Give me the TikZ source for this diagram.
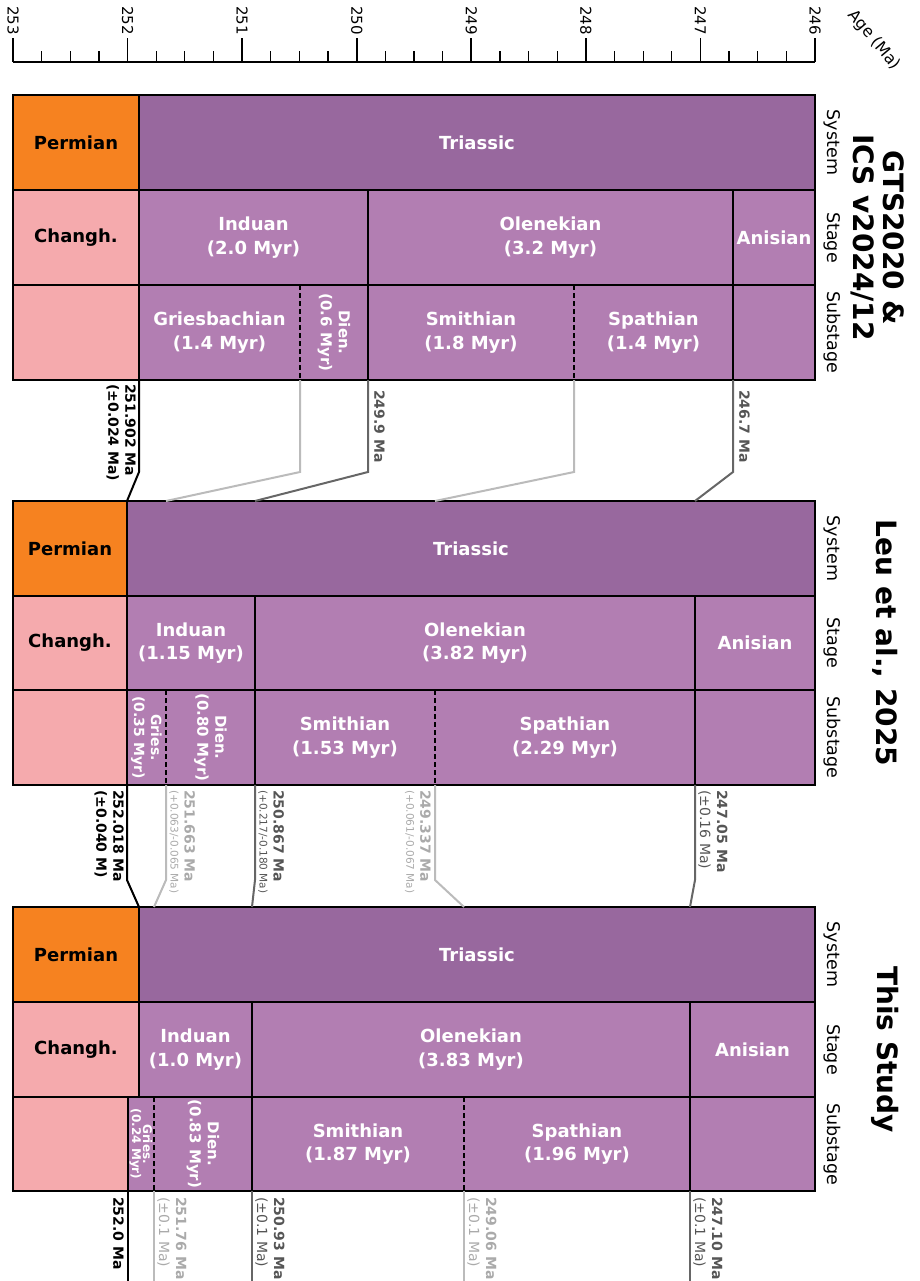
\documentclass[tikz,border=0pt]{standalone}
\usepackage{fontspec}
\setmainfont{DejaVu Sans}
\definecolor{permian}{HTML}{F68220}
\definecolor{changh}{HTML}{F5AAAD}
\definecolor{triassic}{HTML}{98689E}
\definecolor{stagefill}{HTML}{B27EB2}
\definecolor{darkln}{HTML}{666666}
\definecolor{lightln}{HTML}{BBBBBB}
\definecolor{darktx}{HTML}{555555}
\definecolor{lighttx}{HTML}{AAAAAA}
\begin{document}
\begin{tikzpicture}[x=1pt,y=-1pt,
	box/.style={draw=black,line width=2pt},
	subdash/.style={black,line width=1.6pt,dash pattern=on 5pt off 3pt},
	wtxt/.style={text=white,font=\bfseries\fontsize{18}{23.5}\selectfont,align=center},
	btxt/.style={text=black,font=\bfseries\fontsize{18}{23.5}\selectfont,align=center},
	vtxt/.style={text=white,font=\bfseries\fontsize{15}{18}\selectfont,align=center,rotate=-90,inner sep=0pt},
	rowname/.style={font=\fontsize{17.5}{20}\selectfont,rotate=-90},
	srcname/.style={font=\bfseries\fontsize{28}{30}\selectfont,rotate=-90,align=center},
	agetag/.style={font=\bfseries\fontsize{14}{17}\selectfont,rotate=-90,align=left,inner sep=0pt},
	tie/.style={line width=2pt}
]
\useasboundingbox (0,0) rectangle (919,1281);

% age axis
\draw[line width=1.6pt] (13,62) coordinate (ax0) -- (815,62) coordinate (ax1);
\foreach \i in {0,...,7}{
	\pgfmathsetmacro\xx{13+\i*114.571}
	\pgfmathtruncatemacro\age{253-\i}
	\draw[line width=1.6pt] (\xx,62) -- (\xx,38);
	\node[rotate=-90,anchor=west,inner sep=0pt,font=\fontsize{15}{17}\selectfont] (tick\age) at (\xx,6) {\age};
}
\foreach \i in {1,...,27}{
	\pgfmathsetmacro\xx{13+\i*28.643}
	\draw[line width=1.2pt] (\xx,62) -- (\xx,51);
}
\node[rotate=-50,font=\fontsize{16}{18}\selectfont] (agename) at (874,40) {Age (Ma)};

% GTS2020 / ICS panel
\fill[permian] (13,95) rectangle (139,190);
\fill[triassic] (139,95) rectangle (815,190);
\fill[changh] (13,190) rectangle (139,380);
\fill[stagefill] (139,190) rectangle (815,380);
\draw[subdash] (300,285) -- (300,380) (574,285) -- (574,380);
\draw[box] (13,190) -- (815,190) (13,285) -- (815,285)
	(139,95) -- (139,380) (368,190) -- (368,380) (733,190) -- (733,380);
\draw[box] (13,95) rectangle (815,380);
\coordinate (g-pt) at (139,380);
\coordinate (g-gd) at (300,380);
\coordinate (g-io) at (368,380);
\coordinate (g-ss) at (574,380);
\coordinate (g-oa) at (733,380);
\node[btxt] (g-perm) at (76,142.5) {Permian};
\node[wtxt] (g-tri) at (477,142.5) {Triassic};
\node[btxt] (g-chx) at (76,237.5) {Changh.};
\node[wtxt] (g-ind) at (253.5,237.5) {Induan\\(2.0 Myr)};
\node[wtxt] (g-ole) at (550.5,237.5) {Olenekian\\(3.2 Myr)};
\node[wtxt] (g-ani) at (774,237.5) {Anisian};
\node[wtxt] (g-gri) at (219.5,332.5) {Griesbachian\\(1.4 Myr)};
\node[vtxt] (g-die) at (334,332.5) {Dien.\\(0.6 Myr)};
\node[wtxt] (g-smi) at (471,332.5) {Smithian\\(1.8 Myr)};
\node[wtxt] (g-spa) at (653.5,332.5) {Spathian\\(1.4 Myr)};
\node[rowname] (g-sys) at (832,142.5) {System};
\node[rowname] (g-stg) at (832,237.5) {Stage};
\node[rowname] (g-sub) at (832,332.5) {Substage};
\node[srcname] (g-src) at (878,237.5) {GTS2020 \&\\ICS v2024/12};

% Leu et al. panel
\fill[permian] (13,501) rectangle (127,596);
\fill[triassic] (127,501) rectangle (815,596);
\fill[changh] (13,596) rectangle (127,785);
\fill[stagefill] (127,596) rectangle (815,785);
\draw[subdash] (166,690) -- (166,785) (435,690) -- (435,785);
\draw[box] (13,596) -- (815,596) (13,690) -- (815,690)
	(127,501) -- (127,785) (255,596) -- (255,785) (695,596) -- (695,785);
\draw[box] (13,501) rectangle (815,785);
\coordinate (l-ptt) at (127,501);
\coordinate (l-gdt) at (166,501);
\coordinate (l-iot) at (255,501);
\coordinate (l-sst) at (435,501);
\coordinate (l-oat) at (695,501);
\coordinate (l-pt) at (127,785);
\coordinate (l-gd) at (166,785);
\coordinate (l-io) at (255,785);
\coordinate (l-ss) at (435,785);
\coordinate (l-oa) at (695,785);
\node[btxt] (l-perm) at (70,548.5) {Permian};
\node[wtxt] (l-tri) at (471,548.5) {Triassic};
\node[btxt] (l-chx) at (70,643) {Changh.};
\node[wtxt] (l-ind) at (191,643) {Induan\\(1.15 Myr)};
\node[wtxt] (l-ole) at (475,643) {Olenekian\\(3.82 Myr)};
\node[wtxt] (l-ani) at (755,643) {Anisian};
\node[vtxt,font=\bfseries\fontsize{14}{17}\selectfont] (l-gri) at (146.5,737.5) {Gries.\\(0.35 Myr)};
\node[vtxt] (l-die) at (210.5,737.5) {Dien.\\(0.80 Myr)};
\node[wtxt] (l-smi) at (345,737.5) {Smithian\\(1.53 Myr)};
\node[wtxt] (l-spa) at (565,737.5) {Spathian\\(2.29 Myr)};
\node[rowname] (l-sys) at (832,548.5) {System};
\node[rowname] (l-stg) at (832,643) {Stage};
\node[rowname] (l-sub) at (832,737.5) {Substage};
\node[srcname] (l-src) at (885,643) {Leu et al., 2025};

% This Study panel
\fill[permian] (13,907) rectangle (139,1002);
\fill[triassic] (139,907) rectangle (815,1002);
\fill[changh] (13,1002) rectangle (139,1097);
\fill[changh] (13,1097) rectangle (128,1191);
\fill[stagefill] (139,1002) rectangle (815,1097);
\fill[stagefill] (128,1097) rectangle (815,1191);
\draw[subdash] (154,1097) -- (154,1191) (464,1097) -- (464,1191);
\draw[box] (13,1002) -- (815,1002) (13,1097) -- (815,1097)
	(139,907) -- (139,1097) (128,1097) -- (128,1191)
	(252,1002) -- (252,1191) (690,1002) -- (690,1191);
\draw[box] (13,907) rectangle (815,1191);
\coordinate (s-ptt) at (139,907);
\coordinate (s-gdt) at (154,907);
\coordinate (s-iot) at (252,907);
\coordinate (s-sst) at (464,907);
\coordinate (s-oat) at (690,907);
\coordinate (s-pt) at (128,1191);
\coordinate (s-gd) at (154,1191);
\coordinate (s-io) at (252,1191);
\coordinate (s-ss) at (464,1191);
\coordinate (s-oa) at (690,1191);
\node[btxt] (s-perm) at (76,954.5) {Permian};
\node[wtxt] (s-tri) at (477,954.5) {Triassic};
\node[btxt] (s-chx) at (76,1049.5) {Changh.};
\node[wtxt] (s-ind) at (195.5,1049.5) {Induan\\(1.0 Myr)};
\node[wtxt] (s-ole) at (471,1049.5) {Olenekian\\(3.83 Myr)};
\node[wtxt] (s-ani) at (752.5,1049.5) {Anisian};
\node[vtxt,font=\bfseries\fontsize{12}{11}\selectfont] (s-gri) at (141,1144) {Gries.\\(0.24 Myr)};
\node[vtxt] (s-die) at (203,1144) {Dien.\\(0.83 Myr)};
\node[wtxt] (s-smi) at (358,1144) {Smithian\\(1.87 Myr)};
\node[wtxt] (s-spa) at (577,1144) {Spathian\\(1.96 Myr)};
\node[rowname] (s-sys) at (832,954.5) {System};
\node[rowname] (s-stg) at (832,1049.5) {Stage};
\node[rowname] (s-sub) at (832,1144) {Substage};
\node[srcname] (s-src) at (885,1049.5) {This Study};

% ties GTS -> Leu
\draw[tie] (g-pt) -- ++(0,92) -- (l-ptt);
\draw[tie,lightln] (g-gd) -- ++(0,92) -- (l-gdt);
\draw[tie,darkln] (g-io) -- ++(0,92) -- (l-iot);
\draw[tie,lightln] (g-ss) -- ++(0,92) -- (l-sst);
\draw[tie,darkln] (g-oa) -- ++(0,92) -- (l-oat);
\node[agetag,anchor=north west] (g-ptl) at ([shift={(-3,4)}]g-pt) {251.902 Ma\\(±0.024 Ma)};
\node[agetag,anchor=south west,text=darktx] (g-iol) at ([shift={(6,10)}]g-io) {249.9 Ma};
\node[agetag,anchor=south west,text=darktx] (g-oal) at ([shift={(6,10)}]g-oa) {246.7 Ma};

% ties Leu -> This Study
\draw[tie] (l-pt) -- ++(0,95) -- (s-ptt);
\draw[tie,lightln] (l-gd) -- ++(0,95) -- (s-gdt);
\draw[tie,darkln] (l-io) -- ++(0,95) -- (s-iot);
\draw[tie,lightln] (l-ss) -- ++(0,95) -- (s-sst);
\draw[tie,darkln] (l-oa) -- ++(0,95) -- (s-oat);
\node[agetag,anchor=north west] (l-ptl) at ([shift={(-3,5)}]l-pt) {252.018 Ma\\(±0.040 M)};
\node[agetag,anchor=south west,text=lighttx] (l-gdl) at ([shift={(3,5)}]l-gd) {251.663 Ma\\[-3pt]{\mdseries\fontsize{10.5}{12}\selectfont(+0.063/-0.065 Ma)}};
\node[agetag,anchor=south west,text=darktx] (l-iol) at ([shift={(3,5)}]l-io) {250.867 Ma\\[-3pt]{\mdseries\fontsize{10.5}{12}\selectfont(+0.217/-0.180 Ma)}};
\node[agetag,anchor=north west,text=lighttx] (l-ssl) at ([shift={(-4,5)}]l-ss) {249.337 Ma\\[-3pt]{\mdseries\fontsize{10.5}{12}\selectfont(+0.061/-0.067 Ma)}};
\node[agetag,anchor=south west,text=darktx] (l-oal) at ([shift={(3,5)}]l-oa) {247.05 Ma\\{\mdseries(±0.16 Ma)}};

% ties below This Study
\draw[tie] (s-pt) -- ++(0,90) coordinate (s-ptb);
\draw[tie,lightln] (s-gd) -- ++(0,90) coordinate (s-gdb);
\draw[tie,darkln] (s-io) -- ++(0,90) coordinate (s-iob);
\draw[tie,lightln] (s-ss) -- ++(0,90) coordinate (s-ssb);
\draw[tie,darkln] (s-oa) -- ++(0,90) coordinate (s-oab);
\node[agetag,anchor=north west] (s-ptl) at ([shift={(-4,6)}]s-pt) {252.0 Ma};
\node[agetag,anchor=south west,text=lighttx] (s-gdl) at ([shift={(3,6)}]s-gd) {251.76 Ma\\{\mdseries(±0.1 Ma)}};
\node[agetag,anchor=south west,text=darktx] (s-iol) at ([shift={(3,6)}]s-io) {250.93 Ma\\{\mdseries(±0.1 Ma)}};
\node[agetag,anchor=south west,text=lighttx] (s-ssl) at ([shift={(3,6)}]s-ss) {249.06 Ma\\{\mdseries(±0.1 Ma)}};
\node[agetag,anchor=south west,text=darktx] (s-oal) at ([shift={(3,6)}]s-oa) {247.10 Ma\\{\mdseries(±0.1 Ma)}};
\end{tikzpicture}
\end{document}
